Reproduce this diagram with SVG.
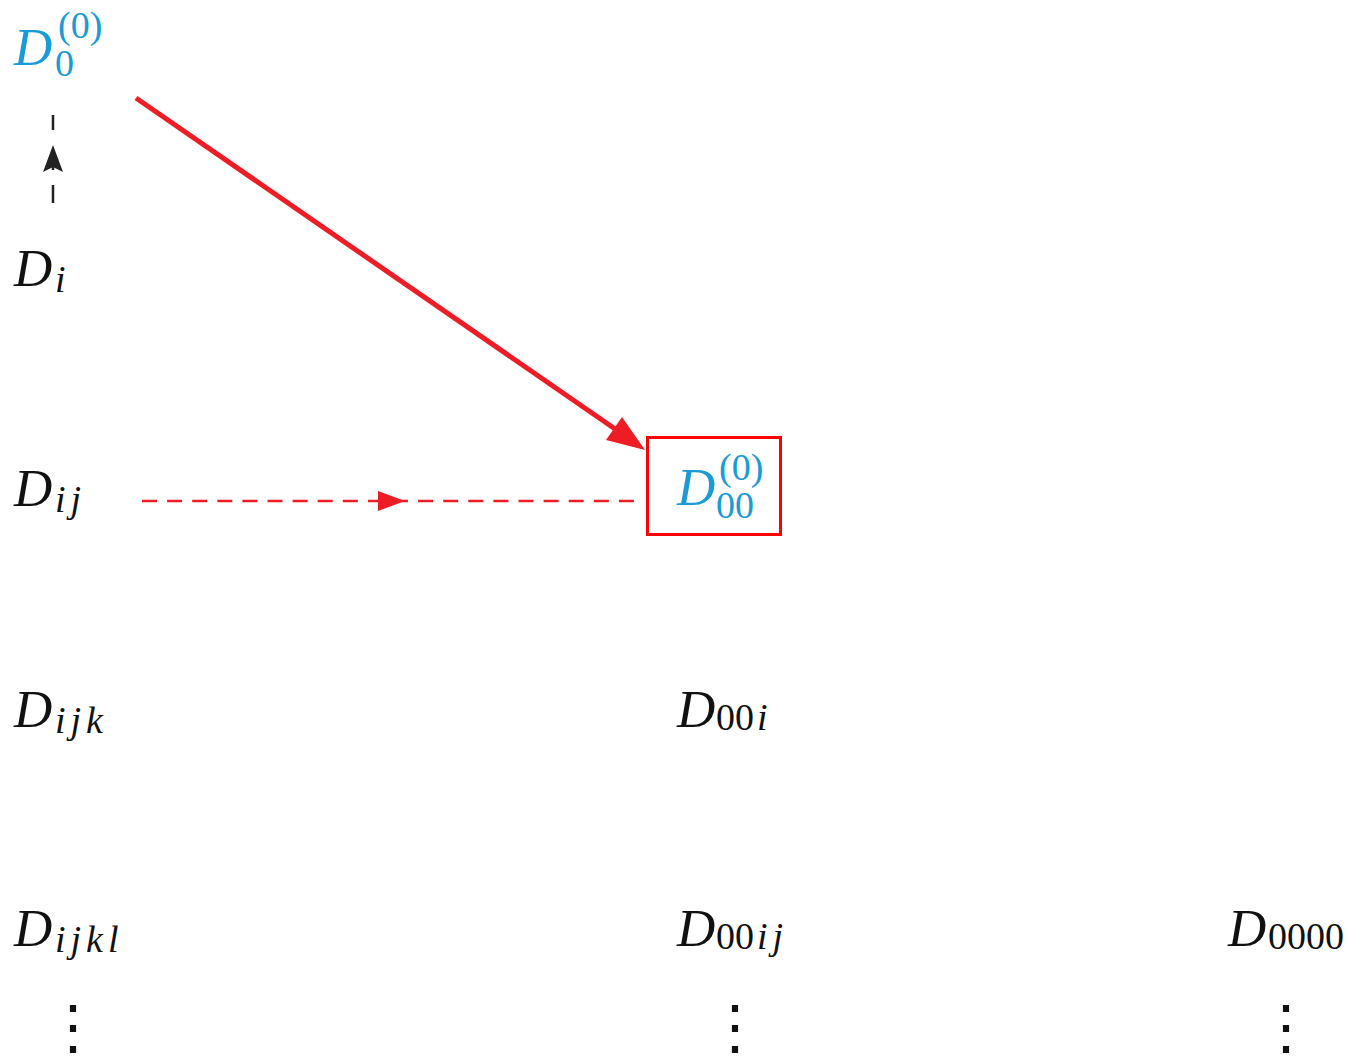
<svg xmlns="http://www.w3.org/2000/svg" width="1353" height="1058" viewBox="0 0 1353 1058">
<defs>
<style>
.m{font-family:"Liberation Serif","Times New Roman",serif;font-size:53px;fill:#111}
.i{font-style:italic}
.s{font-size:38px}
.ls{letter-spacing:5px}
.b{fill:#1a9bd7}
.dots{font-family:"DejaVu Serif",serif;font-size:60px;fill:#111}
</style>
</defs>
<rect width="1353" height="1058" fill="#fff"/>
<g id="connectors">
<path d="M53,203 V185 M53,170 V150 M53,130 V115" stroke="#222" stroke-width="2.5" fill="none"/>
<path d="M53,145 L63,172 L53,167 L43,172 z" fill="#222"/>
<line x1="136" y1="98" x2="618" y2="431" stroke="#ee1c24" stroke-width="5"/>
<path d="M645,450 L606,440 L622,417 z" fill="#ee1c24"/>
<line x1="142" y1="501" x2="640" y2="501" stroke="#ee1c24" stroke-width="2.5" stroke-dasharray="15,10.1"/>
<path d="M405,501 L378,491 L378,511 z" fill="#ee1c24"/>
</g>
<g id="n-D0-0"><text class="m b" x="14" y="65"><tspan class="i">D</tspan><tspan class="s" x="55" dy="11">0</tspan><tspan class="s" x="58" dy="-38">(0)</tspan></text></g>
<g id="n-Di"><text class="m" x="14" y="286"><tspan class="i">D</tspan><tspan class="s i ls" x="55" dy="6">i</tspan></text></g>
<g id="n-Dij"><text class="m" x="14" y="506"><tspan class="i">D</tspan><tspan class="s i ls" x="55" dy="6">ij</tspan></text></g>
<g id="n-Dijk"><text class="m" x="14" y="727"><tspan class="i">D</tspan><tspan class="s i ls" x="55" dy="6">ijk</tspan></text></g>
<g id="n-Dijkl"><text class="m" x="14" y="946"><tspan class="i">D</tspan><tspan class="s i ls" x="55" dy="6">ijkl</tspan></text></g>
<g id="n-D00-0">
<rect x="647.5" y="437.5" width="133" height="97" fill="none" stroke="#ff0000" stroke-width="3"/>
<text class="m b" x="677" y="505"><tspan class="i">D</tspan><tspan class="s" x="716" dy="13">00</tspan><tspan class="s" x="719" dy="-38">(0)</tspan></text>
</g>
<g id="n-D00i"><text class="m" x="677" y="727"><tspan class="i">D</tspan><tspan class="s" x="716" dy="3">00</tspan><tspan class="s i ls" dx="3">i</tspan></text></g>
<g id="n-D00ij"><text class="m" x="677" y="946"><tspan class="i">D</tspan><tspan class="s" x="716" dy="3">00</tspan><tspan class="s i ls" dx="3">ij</tspan></text></g>
<g id="n-D0000"><text class="m" x="1228" y="946"><tspan class="i">D</tspan><tspan class="s" x="1268" dy="3">0000</tspan></text></g>
<g id="vdots">
<text class="dots" x="73" y="1048" text-anchor="middle">⋮</text>
<text class="dots" x="735" y="1048" text-anchor="middle">⋮</text>
<text class="dots" x="1286" y="1048" text-anchor="middle">⋮</text>
</g>
</svg>
